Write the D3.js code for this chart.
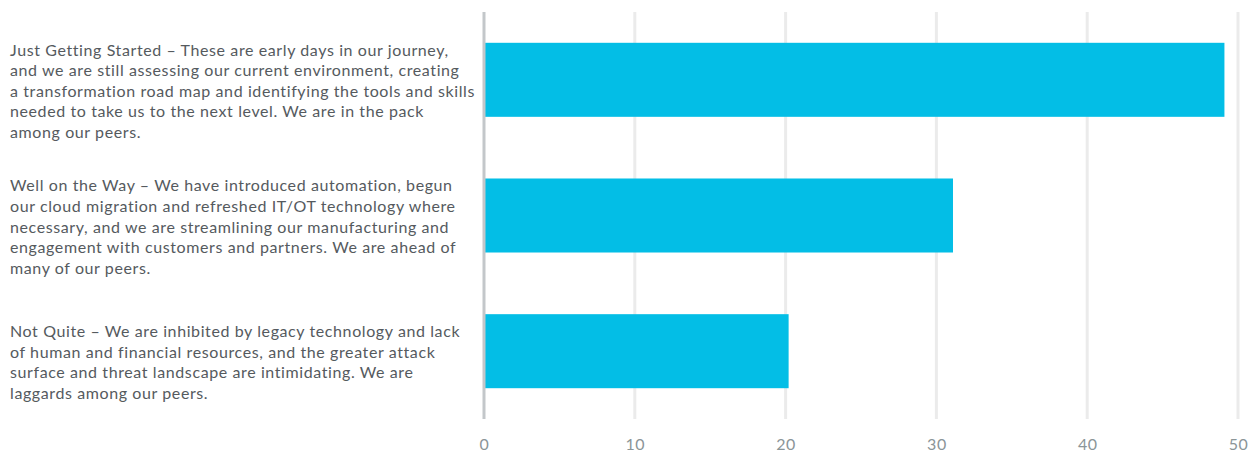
<!DOCTYPE html>
<html>
<head>
<meta charset="utf-8">
<script src="https://cdn.jsdelivr.net/npm/d3@7"></script>
<style>
  html, body { margin: 0; padding: 0; background: #fff; }
  svg { display: block; }
</style>
</head>
<body>
<svg id="chart" width="1255" height="452"></svg>
<script>
// Maturity stages, each label split into the lines it is set in
const categoryLines = [
  ["Just Getting Started \u2013 These are early days in our journey,",
   "and we are still assessing our current environment, creating",
   "a transformation road map and identifying the tools and skills",
   "needed to take us to the next level. We are in the pack",
   "among our peers."],
  ["Well on the Way \u2013 We have introduced automation, begun",
   "our cloud migration and refreshed IT/OT technology where",
   "necessary, and we are streamlining our manufacturing and",
   "engagement with customers and partners. We are ahead of",
   "many of our peers."],
  ["Not Quite \u2013 We are inhibited by legacy technology and lack",
   "of human and financial resources, and the greater attack",
   "surface and threat landscape are intimidating. We are",
   "laggards among our peers."]
];
const categories = categoryLines.map(l => l.join(" "));
const values = [49.1, 31.1, 20.2];
const tickValues = [0, 10, 20, 30, 40, 50];

const svg = d3.select("#chart");
const margin = { left: 484, right: 17, top: 12, bottom: 33 };
const W = 1255, H = 452;

const x = d3.scaleLinear().domain([0, 50]).range([margin.left, W - margin.right]);
const y = d3.scaleBand().domain(categories)
  .range([margin.top, H - margin.bottom])
  .paddingInner(0.4545).paddingOuter(0.227);

const font = "Lato, 'Open Sans', sans-serif";

// vertical grid lines
svg.append("g").selectAll("line")
  .data(tickValues.filter(d => d > 0))
  .join("line")
  .attr("x1", d => x(d)).attr("x2", d => x(d))
  .attr("y1", margin.top).attr("y2", H - margin.bottom)
  .attr("stroke", "#ebebeb").attr("stroke-width", 3);

// bars
svg.append("g").selectAll("rect")
  .data(categories.map((c, i) => ({ c, v: values[i] })))
  .join("rect")
  .attr("x", x(0))
  .attr("y", d => y(d.c))
  .attr("width", d => x(d.v) - x(0))
  .attr("height", y.bandwidth())
  .attr("fill", "#03bee6");

// baseline axis line
svg.append("line")
  .attr("x1", x(0)).attr("x2", x(0))
  .attr("y1", margin.top).attr("y2", H - margin.bottom)
  .attr("stroke", "#c3c7ca").attr("stroke-width", 3);

// x axis tick labels
const xAxis = d3.axisBottom(x).tickValues(tickValues).tickSize(0).tickPadding(0);
const gx = svg.append("g").attr("transform", `translate(0,${H - margin.bottom})`).call(xAxis);
gx.select(".domain").remove();
gx.selectAll("text")
  .attr("dy", null)
  .attr("y", 31)
  .attr("font-family", font)
  .attr("font-size", 16)
  .attr("letter-spacing", 0.5)
  .attr("fill", "#8b9598");

// category labels, multi-line, centred on their bars
const lineH = 20.6;
const labels = svg.append("g").selectAll("text")
  .data(categoryLines)
  .join("text")
  .attr("font-family", font)
  .attr("font-size", 16)
  .attr("letter-spacing", 0.6)
  .attr("fill", "#555a5e")
  .attr("x", 10)
  .attr("y", (d, i) => y(categories[i]) + y.bandwidth() / 2 + 17 - (d.length - 1) / 2 * lineH);
labels.selectAll("tspan")
  .data(d => d)
  .join("tspan")
  .attr("x", 10)
  .attr("dy", (d, i) => i === 0 ? 0 : lineH)
  .text(d => d);
</script>
</body>
</html>
